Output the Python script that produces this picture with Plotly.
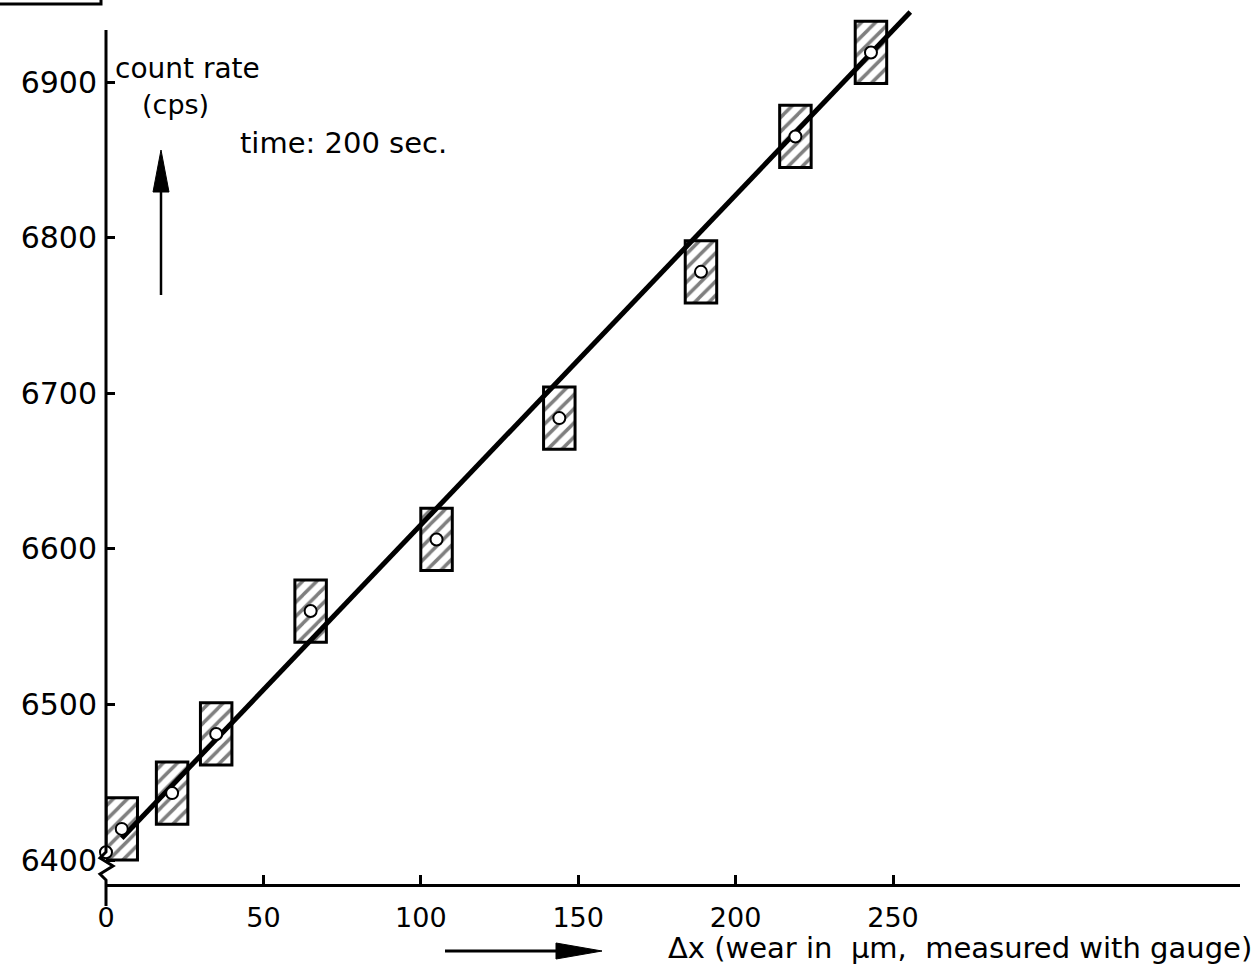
import plotly.graph_objects as go

# ---------------- data ----------------
wear_um = [5, 21, 35, 65, 105, 144, 189, 219, 243]
count_rate_cps = [6420, 6443, 6481, 6560, 6606, 6684, 6778, 6865, 6919]
origin_x = [0]
origin_y = [6405]
err_cps = 20      # half height of the hatched boxes
err_um = 5        # half width of the hatched boxes
fit_x = [5, 255.5]
fit_y = [6414, 6945]
x_ticks = [0, 50, 100, 150, 200, 250]
y_ticks = [6400, 6500, 6600, 6700, 6800, 6900]

# ---------------- layout geometry ----------------
W, H = 1258, 968
L, R, T, B = 106, 18, 0, 84
pw, ph = W - L - R, H - T - B


def px(x):
    return (x - L) / pw


def py(y):
    return 1 - (y - T) / ph


FONT = "DejaVu Sans"

fig = go.Figure()

# hatched error boxes
fig.add_trace(go.Bar(
    x=wear_um,
    y=[2 * err_cps] * len(wear_um),
    base=[v - err_cps for v in count_rate_cps],
    width=[2 * err_um] * len(wear_um),
    marker=dict(color="white",
                line=dict(color="black", width=3),
                pattern=dict(shape="/", fgcolor="black", bgcolor="white",
                             size=10, solidity=0.35, fillmode="overlay")),
    showlegend=False, hoverinfo="skip",
))

# fitted straight line
fig.add_trace(go.Scatter(x=fit_x, y=fit_y, mode="lines",
                         line=dict(color="black", width=5),
                         showlegend=False, hoverinfo="skip"))

# measured points (open circles)
fig.add_trace(go.Scatter(x=origin_x + wear_um, y=origin_y + count_rate_cps,
                         mode="markers", cliponaxis=False,
                         marker=dict(symbol="circle", size=12, color="white",
                                     line=dict(color="black", width=2)),
                         showlegend=False))

shapes = []
# y axis line with break symbol near the bottom
shapes.append(dict(type="path", xref="paper", yref="paper",
                   path=(f"M {px(106)} {py(30)} L {px(106)} {py(852)} "
                         f"L {px(100)} {py(858)} L {px(113)} {py(866)} "
                         f"L {px(100)} {py(874)} L {px(106)} {py(880)} "
                         f"L {px(106)} {py(906)}"),
                   line=dict(color="black", width=3)))
# corner fragment of a frame at top left
shapes.append(dict(type="path", xref="paper", yref="paper",
                   path=f"M {px(0)} {py(4)} L {px(101)} {py(4)} L {px(101)} {py(0)}",
                   line=dict(color="black", width=3)))
# up arrow (y quantity)
shapes.append(dict(type="line", xref="paper", yref="paper",
                   x0=px(161), y0=py(295), x1=px(161), y1=py(185),
                   line=dict(color="black", width=2.5)))
shapes.append(dict(type="path", xref="paper", yref="paper",
                   path=(f"M {px(161)} {py(150)} L {px(153)} {py(192)} "
                         f"L {px(169)} {py(192)} Z"),
                   fillcolor="black", line=dict(color="black", width=1)))
# right arrow (x quantity)
shapes.append(dict(type="line", xref="paper", yref="paper",
                   x0=px(445), y0=py(951), x1=px(565), y1=py(951),
                   line=dict(color="black", width=3)))
shapes.append(dict(type="path", xref="paper", yref="paper",
                   path=(f"M {px(602)} {py(951)} L {px(556)} {py(943)} "
                         f"L {px(556)} {py(959)} Z"),
                   fillcolor="black", line=dict(color="black", width=1)))

annotations = [
    dict(text="count rate", x=px(113), y=py(69), xref="paper", yref="paper",
         xanchor="left", yanchor="middle", showarrow=False,
         font=dict(family=FONT, size=28, color="black")),
    dict(text="(cps)", x=px(140), y=py(104), xref="paper", yref="paper",
         xanchor="left", yanchor="middle", showarrow=False,
         font=dict(family=FONT, size=27, color="black")),
    dict(text="time: 200 sec.", x=px(238), y=py(143), xref="paper", yref="paper",
         xanchor="left", yanchor="middle", showarrow=False,
         font=dict(family=FONT, size=29, color="black")),
    dict(text="Δx (wear in\u00a0 µm,\u00a0 measured with gauge)",
         x=px(1254), y=py(948), xref="paper", yref="paper",
         xanchor="right", yanchor="middle", showarrow=False,
         font=dict(family=FONT, size=29, color="black")),
]

fig.update_layout(
    width=W, height=H,
    margin=dict(l=L, r=R, t=T, b=B),
    paper_bgcolor="white", plot_bgcolor="white",
    barmode="overlay",
    shapes=shapes, annotations=annotations,
    showlegend=False,
    xaxis=dict(range=[0, pw / 3.148], tickvals=x_ticks,
               ticktext=[str(v) for v in x_ticks],
               ticks="inside", ticklen=9, tickwidth=2.5, tickcolor="black",
               showline=True, linewidth=3, linecolor="black",
               showgrid=False, zeroline=False, ticklabelstandoff=8,
               tickfont=dict(family=FONT, size=27, color="black")),
    yaxis=dict(range=[6400 - (884 - 860) / 1.556, 6400 + 860 / 1.556],
               tickvals=y_ticks, ticktext=[str(v) for v in y_ticks],
               ticks="inside", ticklen=9, tickwidth=2.5, tickcolor="black",
               showline=False, showgrid=False, zeroline=False,
               ticklabelstandoff=8,
               tickfont=dict(family=FONT, size=30, color="black")),
)

fig.write_html("out.html",
               config={"displayModeBar": False},
               post_script="document.body.style.margin='0';"
                           "document.body.style.padding='0';")
